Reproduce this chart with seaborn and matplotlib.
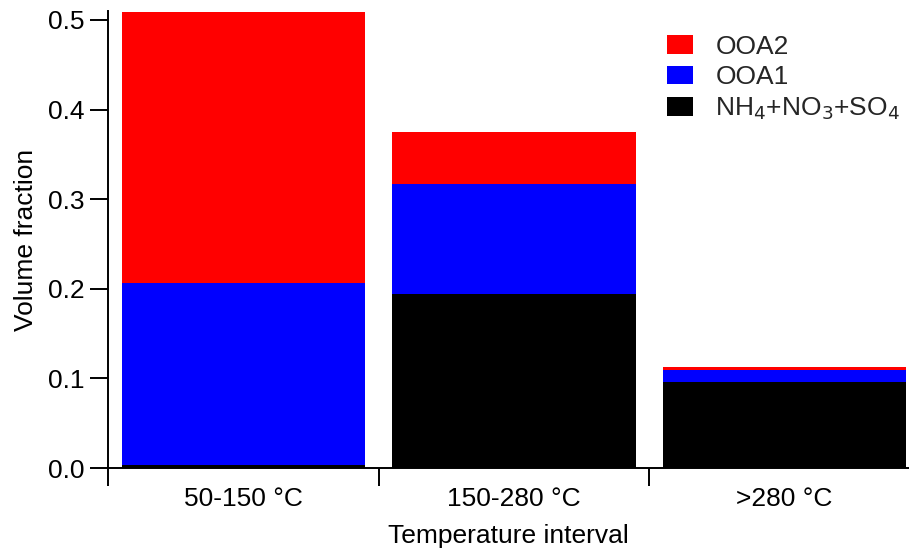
import matplotlib
matplotlib.use("Agg")
import matplotlib.pyplot as plt
import seaborn as sns
import pandas as pd
import numpy as np

categories = ["50-150 °C", "150-280 °C", ">280 °C"]
inorg = [0.003, 0.194, 0.096]
ooa1 = [0.203, 0.123, 0.013]
ooa2 = [0.303, 0.058, 0.004]
series_names = ["OOA2", "OOA1", "NH$_4$+NO$_3$+SO$_4$"]
colors = {"OOA2": "#ff0000", "OOA1": "#0000ff", "inorg": "#000000"}

sns.set_theme(style="white")
plt.rcParams['font.family'] = ['Liberation Sans', 'DejaVu Sans']
FS = 19

fig = plt.figure(figsize=(9.09, 5.5), dpi=100)
ax = fig.add_axes([108/909, 82/550, 1 - 108/909, 457/550])

df = pd.DataFrame({"cat": categories, "inorg": inorg, "ooa1": ooa1, "ooa2": ooa2})
b1 = np.array(inorg)
b2 = b1 + np.array(ooa1)

sns.barplot(data=df, x="cat", y="inorg", color=colors["inorg"], width=0.9,
            saturation=1, ax=ax, linewidth=0)
sns.barplot(data=df, x="cat", y="ooa1", color=colors["OOA1"], width=0.9,
            saturation=1, ax=ax, linewidth=0, bottom=b1)
sns.barplot(data=df, x="cat", y="ooa2", color=colors["OOA2"], width=0.9,
            saturation=1, ax=ax, linewidth=0, bottom=b2)

ax.set_xlim(-0.5, 2.46)
ax.set_ylim(0, 0.51)
for s in ["top", "right"]:
    ax.spines[s].set_visible(False)
for s in ["left", "bottom"]:
    ax.spines[s].set_color("black")
    ax.spines[s].set_linewidth(1.4)

ax.set_yticks([0, 0.1, 0.2, 0.3, 0.4, 0.5])
ax.set_yticklabels(["0.0", "0.1", "0.2", "0.3", "0.4", "0.5"])
ax.set_xticks([-0.5, 0.5, 1.5])
ax.set_xticklabels(["", "", ""])
ax.set_xticks([0, 1, 2], minor=True)
ax.set_xticklabels(categories, minor=True)
ax.tick_params(axis="y", which="major", direction="out", length=13, width=1.4,
               labelsize=FS, color="black", labelcolor="black", left=True, pad=4)
ax.tick_params(axis="x", which="major", direction="out", length=13, width=1.4,
               color="black", bottom=True)
ax.tick_params(axis="x", which="minor", length=0, labelsize=FS, pad=14,
               labelcolor="black")

ax.set_xlabel("Temperature interval", fontsize=FS, color="black", labelpad=9)
ax.set_ylabel("Volume fraction", fontsize=FS, color="black", labelpad=7)

from matplotlib.patches import Patch
handles = [Patch(facecolor=colors["OOA2"], edgecolor="none"),
           Patch(facecolor=colors["OOA1"], edgecolor="none"),
           Patch(facecolor=colors["inorg"], edgecolor="none")]
fig.legend(handles, series_names, loc="upper left", bbox_to_anchor=(656/909, 1 - 24/550),
           frameon=False, fontsize=FS, handlelength=1.0, handleheight=0.7,
           handletextpad=0.85, labelspacing=0.25, borderaxespad=0)

fig.savefig("out.png", dpi=100)
